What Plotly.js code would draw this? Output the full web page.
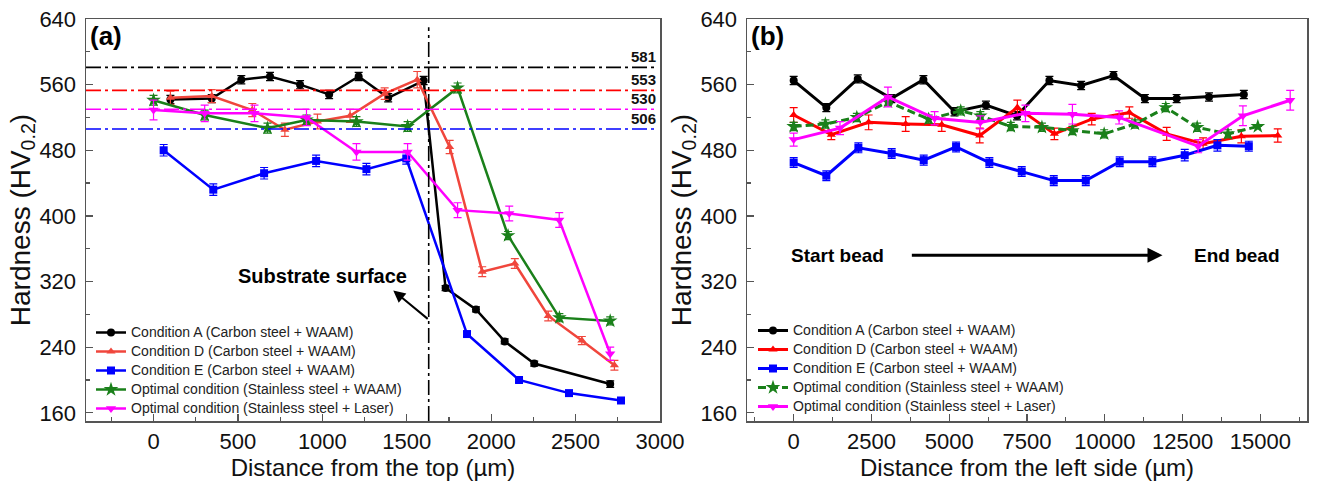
<!DOCTYPE html>
<html>
<head>
<meta charset="utf-8">
<script src="https://cdn.plot.ly/plotly-3.0.1.min.js"></script>
<style>html,body{margin:0;padding:0;background:#fff;}#chart{width:1325px;height:490px;}</style>
</head>
<body>
<div id="chart"></div>
<script>
// ---------- Panel (a): distance from the top ----------
const seriesNames = [
  'Condition A (Carbon steel + WAAM)',
  'Condition D (Carbon steel + WAAM)',
  'Condition E (Carbon steel + WAAM)',
  'Optimal condition (Stainless steel + WAAM)',
  'Optimal condition (Stainless steel + Laser)'
];

const aX_A = [100, 345, 520, 690, 868, 1040, 1215, 1390, 1600, 1730, 1910, 2080, 2255, 2705];
const aY_A = [542, 543, 566, 570, 560, 548, 570, 544, 565, 312, 286, 247, 220, 195];
const aE_A = [5, 5, 5, 5, 5, 5, 5, 5, 5, 3, 3, 3, 3, 4];

const aX_D = [100, 345, 585, 778, 971, 1164, 1369, 1562, 1754, 1947, 2140, 2338, 2537, 2730];
const aY_D = [544, 546, 529, 505, 515, 522, 549, 566, 484, 332, 342, 278, 248, 218];
const aE_D = [8, 8, 8, 8, 9, 8, 7, 10, 8, 6, 6, 6, 5, 6];

const aX_E = [60, 354, 655, 963, 1261, 1497, 1857, 2165, 2461, 2769];
const aY_E = [480, 432, 452, 467, 457, 470, 256, 200, 184, 175];
const aE_E = [7, 7, 7, 7, 7, 7, 3, 3, 3, 3];

const aX_SW = [0, 303, 675, 906, 1202, 1505, 1801, 2100, 2404, 2705];
const aY_SW = [541, 523, 507, 517, 515, 509, 556, 376, 276, 272];
const aE_SW = [6, 6, 6, 6, 6, 6, 6, 5, 5, 5];

const aX_SL = [0, 303, 598, 906, 1202, 1505, 1801, 2107, 2403, 2705];
const aY_SL = [529, 525, 525, 520, 478, 478, 407, 403, 395, 232];
const aE_SL = [12, 10, 10, 10, 10, 10, 9, 9, 9, 8];

const refLevels = [581, 553, 530, 506];
const refLabels = ['581', '553', '530', '506'];
const substrateX = 1630;

// ---------- Panel (b): distance from the left side ----------
const bX_A = [0, 1050, 2060, 3140, 4170, 5170, 6180, 7180, 8220, 9240, 10280, 11290, 12310, 13350, 14470];
const bY_A = [565, 532, 567, 543, 566, 527, 535, 522, 565, 559, 571, 543, 543, 545, 548];
const bE_A = [5, 5, 5, 5, 5, 5, 5, 5, 5, 5, 5, 5, 5, 5, 5];

const bX_D = [0, 1210, 2410, 3600, 4760, 5980, 7190, 8380, 9580, 10790, 11990, 13160, 14390, 15560];
const bY_D = [523, 499, 514, 512, 511, 498, 532, 500, 518, 526, 500, 488, 497, 498];
const bE_D = [9, 6, 9, 9, 8, 9, 9, 7, 7, 7, 8, 7, 8, 8];

const bX_E = [0, 1050, 2080, 3150, 4180, 5220, 6290, 7330, 8360, 9390, 10480, 11530, 12570, 13620, 14630];
const bY_E = [465, 449, 483, 476, 468, 484, 465, 454, 443, 443, 466, 466, 474, 486, 485];
const bE_E = [6, 6, 6, 6, 6, 6, 6, 6, 6, 6, 6, 6, 7, 7, 6];

const bX_SW = [0, 1020, 2030, 3030, 4340, 5370, 6000, 6980, 7980, 8960, 9980, 10970, 11960, 12970, 13960, 14920];
const bY_SW = [509, 512, 520, 539, 518, 528, 522, 509, 508, 504, 500, 512, 532, 508, 500, 509];
const bE_SW = [5, 5, 5, 5, 5, 5, 5, 5, 5, 5, 5, 5, 5, 5, 5, 0];

const bX_SL = [0, 1490, 3030, 4530, 6000, 7450, 8960, 10460, 13000, 14440, 15960];
const bY_SL = [493, 507, 545, 519, 514, 525, 524, 520, 485, 522, 541];
const bE_SL = [8, 8, 12, 8, 8, 10, 12, 8, 8, 12, 12];

const annotA = 'Substrate surface';
const annotB1 = 'Start bead';
const annotB2 = 'End bead';

// ---------- styling ----------
const FONT = 'Liberation Sans, Arial, sans-serif';
const colA = ['#000000', '#f0463c', '#0000ff', '#1a801a', '#ff00ff'];
const colB = ['#000000', '#ff0000', '#0000ff', '#1a801a', '#ff00ff'];
const symbols = ['circle', 'triangle-up', 'square', 'star', 'triangle-down'];
const msize = [8, 8, 8, 11, 9];

function legendLabel(s) {
  return '<span style="font-size:14px">' + s + '</span>';
}

function mk(x, y, e, i, xa, ya, leg, cols, lw, dash) {
  return {
    type: 'scatter', mode: 'lines+markers', x: x, y: y,
    name: legendLabel(seriesNames[i]), xaxis: xa, yaxis: ya, legend: leg,
    line: {color: cols[i], width: lw, dash: dash || 'solid'},
    marker: {symbol: symbols[i], size: msize[i], color: cols[i]},
    error_y: {type: 'data', array: e, visible: true, color: cols[i], thickness: 1.2, width: 4}
  };
}

const traces = [
  mk(aX_A, aY_A, aE_A, 0, 'x', 'y', 'legend', colA, 2.5),
  mk(aX_D, aY_D, aE_D, 1, 'x', 'y', 'legend', colA, 2.5),
  mk(aX_E, aY_E, aE_E, 2, 'x', 'y', 'legend', colA, 2.5),
  mk(aX_SW, aY_SW, aE_SW, 3, 'x', 'y', 'legend', colA, 2.5),
  mk(aX_SL, aY_SL, aE_SL, 4, 'x', 'y', 'legend', colA, 2.5),
  mk(bX_A, bY_A, bE_A, 0, 'x2', 'y2', 'legend2', colB, 3),
  mk(bX_D, bY_D, bE_D, 1, 'x2', 'y2', 'legend2', colB, 3),
  mk(bX_E, bY_E, bE_E, 2, 'x2', 'y2', 'legend2', colB, 3),
  mk(bX_SW, bY_SW, bE_SW, 3, 'x2', 'y2', 'legend2', colB, 3, '8px,4px'),
  mk(bX_SL, bY_SL, bE_SL, 4, 'x2', 'y2', 'legend2', colB, 3)
];

const refColors = ['#000000', '#ff0000', '#ff00ff', '#0000ff'];
const shapes = refLevels.map((v, i) => ({
  type: 'line', xref: 'x', yref: 'y', x0: -400, x1: 2985, y0: v, y1: v,
  line: {color: refColors[i], width: 1.6, dash: '15px,4px,3px,4px'}
}));
shapes.push({
  type: 'line', xref: 'x', yref: 'y', x0: substrateX, x1: substrateX, y0: 150, y1: 630,
  line: {color: '#000000', width: 1.6, dash: '15px,4px,3px,4px'}
});

const annotations = refLevels.map((v, i) => ({
  x: 2990, y: v, xref: 'x', yref: 'y', text: '<b>' + refLabels[i] + '</b>', showarrow: false,
  xanchor: 'right', yanchor: 'bottom', font: {family: FONT, size: 15, color: '#111'}
}));
annotations.push(
  {x: 88 / 1325, y: 1 - 19 / 490, xref: 'paper', yref: 'paper', text: '<b>(a)</b>', showarrow: false,
   xanchor: 'left', yanchor: 'top', font: {family: FONT, size: 26, color: '#000'}},
  {x: 749 / 1325, y: 1 - 19 / 490, xref: 'paper', yref: 'paper', text: '<b>(b)</b>', showarrow: false,
   xanchor: 'left', yanchor: 'top', font: {family: FONT, size: 26, color: '#000'}},
  {x: 1000, y: 327, xref: 'x', yref: 'y', text: '<b>' + annotA + '</b>', showarrow: false,
   font: {family: FONT, size: 20, color: '#000'}},
  {x: 1420, y: 309, xref: 'x', yref: 'y', ax: 1633, ay: 273, axref: 'x', ayref: 'y', text: '',
   showarrow: true, arrowhead: 2, arrowsize: 1.2, arrowwidth: 2, arrowcolor: '#000'},
  {x: 11856, y: 352, xref: 'x2', yref: 'y2', ax: 1420, ay: 352, axref: 'x2', ayref: 'y2',
   text: '<b>' + annotB1 + '</b>', showarrow: true, startstandoff: 26,
   arrowhead: 2, arrowsize: 1, arrowwidth: 3, arrowcolor: '#000',
   font: {family: FONT, size: 19, color: '#000'}},
  {x: 14240, y: 352, xref: 'x2', yref: 'y2', text: '<b>' + annotB2 + '</b>', showarrow: false,
   font: {family: FONT, size: 19, color: '#000'}}
);

const axisCommon = {
  showgrid: false, zeroline: false, showline: true, linecolor: '#555', linewidth: 1.5, mirror: true,
  ticks: 'inside', ticklen: 7, tickwidth: 1.2, tickcolor: '#555', tickformat: 'd',
  tickfont: {family: FONT, size: 22, color: '#111'}, automargin: false
};
const yTitle = {text: 'Hardness (HV<sub>0.2</sub>)', font: {family: FONT, size: 28, color: '#111'}, standoff: 0};

const layout = {
  width: 1325, height: 490, margin: {l: 0, r: 0, t: 0, b: 0},
  paper_bgcolor: '#fff', plot_bgcolor: '#fff', showlegend: true,
  xaxis: Object.assign({}, axisCommon, {
    domain: [86 / 1325, 660 / 1325], range: [-400, 3000], tick0: 0, dtick: 500, anchor: 'y',
    ticklabelstandoff: 0,
    minor: {ticks: 'inside', ticklen: 4, dtick: 250, tick0: 0, tickcolor: '#555', showgrid: false},
    title: {text: 'Distance from the top (µm)', font: {family: FONT, size: 24, color: '#111'}, standoff: 6}
  }),
  yaxis: Object.assign({}, axisCommon, {
    domain: [69 / 490, 471 / 490], range: [150, 640], tick0: 0, dtick: 80, anchor: 'x',
    ticklabelstandoff: 4,
    minor: {ticks: 'inside', ticklen: 4, dtick: 40, tick0: 0, tickcolor: '#555', showgrid: false},
    title: yTitle
  }),
  xaxis2: Object.assign({}, axisCommon, {
    domain: [747 / 1325, 1307 / 1325], range: [-1500, 16500], tick0: 0, dtick: 2500, anchor: 'y2',
    ticklabelstandoff: 0,
    minor: {ticks: 'inside', ticklen: 4, dtick: 1250, tick0: 0, tickcolor: '#555', showgrid: false},
    title: {text: 'Distance from the left side (µm)', font: {family: FONT, size: 24, color: '#111'}, standoff: 6}
  }),
  yaxis2: Object.assign({}, axisCommon, {
    domain: [69 / 490, 471 / 490], range: [150, 640], tick0: 0, dtick: 80, anchor: 'x2',
    ticklabelstandoff: 4,
    minor: {ticks: 'inside', ticklen: 4, dtick: 40, tick0: 0, tickcolor: '#555', showgrid: false},
    title: yTitle
  }),
  legend: {x: 91 / 1325, y: 1 - 318 / 490, xanchor: 'left', yanchor: 'top', bgcolor: 'rgba(0,0,0,0)',
           font: {family: FONT, size: 12.3, color: '#222'}, tracegroupgap: 0, itemwidth: 30},
  legend2: {x: 753 / 1325, y: 1 - 316 / 490, xanchor: 'left', yanchor: 'top', bgcolor: 'rgba(0,0,0,0)',
            font: {family: FONT, size: 12.3, color: '#222'}, tracegroupgap: 0, itemwidth: 30},
  shapes: shapes,
  annotations: annotations
};

Plotly.newPlot('chart', traces, layout, {displayModeBar: false, staticPlot: true});
</script>
</body>
</html>
